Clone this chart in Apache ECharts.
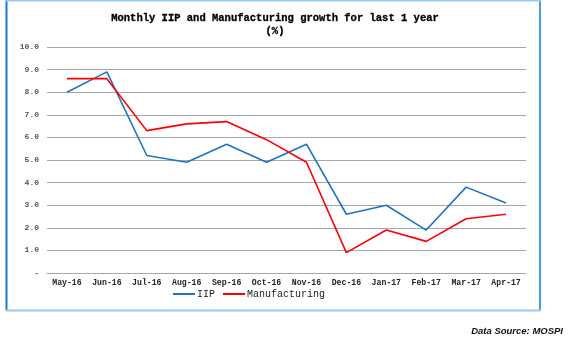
<!DOCTYPE html>
<html>
<head>
<meta charset="utf-8">
<script src="https://cdn.jsdelivr.net/npm/echarts@6/dist/echarts.min.js"></script>
<style>
  html, body { margin: 0; padding: 0; background: #ffffff; }
  #chart { width: 572px; height: 346px; }
</style>
</head>
<body>
<div id="chart"></div>
<script>
// Months covered by the chart
const months = ['May-16', 'Jun-16', 'Jul-16', 'Aug-16', 'Sep-16', 'Oct-16',
                'Nov-16', 'Dec-16', 'Jan-17', 'Feb-17', 'Mar-17', 'Apr-17'];

// Year-on-year growth (%)
const iip = [8.0, 8.9, 5.2, 4.9, 5.7, 4.9, 5.7, 2.6, 3.0, 1.9, 3.8, 3.1];
const manufacturing = [8.6, 8.6, 6.3, 6.6, 6.7, 5.9, 4.9, 0.9, 1.9, 1.4, 2.4, 2.6];

// Value axis range
const yMin = 0, yMax = 10, yStep = 1;

const chart = echarts.init(document.getElementById('chart'), null, { renderer: 'canvas' });

const mono = '"Liberation Mono", "DejaVu Sans Mono", monospace';

chart.setOption({
  backgroundColor: '#ffffff',
  animation: false,
  title: {
    text: 'Monthly IIP and Manufacturing growth for last 1 year\n(%)',
    left: 270,
    textAlign: 'center',
    top: 7,
    textStyle: {
      fontFamily: mono,
      fontWeight: 'bold',
      fontSize: 10.5,
      lineHeight: 13,
      color: '#000000',
      textBorderColor: '#000000',
      textBorderWidth: 0.3
    }
  },
  legend: {
    left: 168,
    top: 284,
    itemWidth: 22,
    itemHeight: 8,
    itemGap: 8,
    icon: 'path://M0,0 L22,0 L22,2 L0,2 Z',
    textStyle: { fontFamily: mono, fontSize: 10, color: '#222222', padding: [0, 0, 0, -3] },
    data: ['IIP', 'Manufacturing']
  },
  grid: { left: 47, right: 46, top: 47, bottom: 73 },
  xAxis: {
    type: 'category',
    data: months,
    boundaryGap: true,
    axisLine: { show: true, lineStyle: { color: '#a6a6a6', width: 1 } },
    axisTick: { show: false },
    axisLabel: {
      interval: 0,
      margin: 6,
      fontFamily: mono,
      fontWeight: 'bold',
      fontSize: 8.2,
      color: '#222222'
    }
  },
  yAxis: {
    type: 'value',
    min: yMin,
    max: yMax,
    interval: yStep,
    axisLine: { show: false },
    axisTick: { show: false },
    splitLine: { lineStyle: { color: '#a6a6a6', width: 1 } },
    axisLabel: {
      margin: 8,
      fontFamily: mono,
      fontSize: 8,
      fontWeight: 'bold',
      color: '#555555',
      formatter: v => (v === 0 ? '-' : v.toFixed(1))
    }
  },
  series: [
    {
      name: 'IIP',
      type: 'line',
      data: iip,
      symbol: 'none',
      lineStyle: { color: '#1f73c6', width: 1.6 },
      itemStyle: { color: '#1f73c6' }
    },
    {
      name: 'Manufacturing',
      type: 'line',
      data: manufacturing,
      symbol: 'none',
      lineStyle: { color: '#ff0000', width: 1.6 },
      itemStyle: { color: '#ff0000' }
    }
  ],
  graphic: [
    // frame around the chart area
    { type: 'line', shape: { x1: 6.5, y1: 0, x2: 6.5, y2: 311 }, style: { stroke: '#1a78d2', lineWidth: 2 } },
    { type: 'line', shape: { x1: 540, y1: 0, x2: 540, y2: 311 }, style: { stroke: '#4a9ee6', lineWidth: 2 } },
    { type: 'line', shape: { x1: 6, y1: 0.5, x2: 541, y2: 0.5 }, style: { stroke: '#9cc9f0', lineWidth: 2 } },
    { type: 'line', shape: { x1: 6, y1: 310.5, x2: 541, y2: 310.5 }, style: { stroke: '#9cc9f0', lineWidth: 2 } },
    {
      type: 'text',
      right: 9,
      top: 326,
      style: {
        text: 'Data Source: MOSPI',
        fontFamily: '"Liberation Sans", Arial, sans-serif',
        fontWeight: 'bold',
        fontStyle: 'italic',
        fontSize: 9.5,
        fill: '#111111'
      }
    }
  ]
});
</script>
</body>
</html>
